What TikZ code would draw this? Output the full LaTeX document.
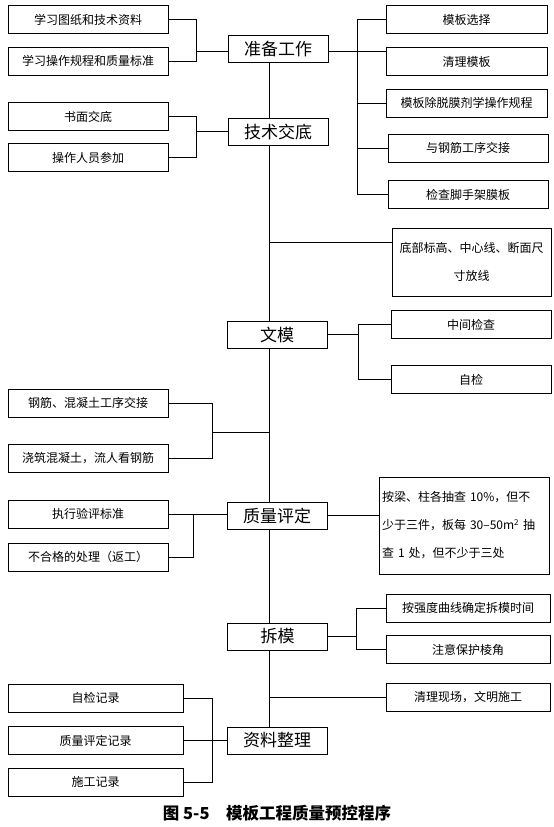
\documentclass[tikz,border=0pt]{standalone}
\usepackage{fontspec}
\setmainfont{Noto Sans CJK SC}
\usetikzlibrary{positioning}

\begin{document}
\begin{tikzpicture}[
x=1pt, y=-1pt,
mainbox/.style={draw, line width=0.9pt, minimum width=100pt, minimum height=27pt, inner sep=0pt, font=\fontsize{17}{17}\selectfont},
subbox/.style={draw, line width=0.9pt, minimum width=160pt, minimum height=28pt, inner sep=0pt, font=\fontsize{12}{12}\selectfont},
link/.style={line width=0.8pt}
]
\useasboundingbox (0,0) rectangle (554,827);

% main column
\node[mainbox] (zb) at (278,49) {准备工作};
\node[mainbox] (js) at (278,131.5) {技术交底};
\node[mainbox] (zm) at (277,334.5) {文模};
\node[mainbox] (zl) at (277,515.5) {质量评定};
\node[mainbox] (cm) at (277.5,636.5) {拆模};
\node[mainbox] (zz) at (277,740.5) {资料整理};

% left side
\node[subbox] (a1) at (88,19.5) {学习图纸和技术资料};
\node[subbox] (a2) at (88,61) {学习操作规程和质量标准};
\node[subbox] (b1) at (88,116.5) {书面交底};
\node[subbox] (b2) at (88,157.5) {操作人员参加};
\node[subbox] (c1) at (88,403) {钢筋、混凝土工序交接};
\node[subbox] (c2) at (88,458.5) {浇筑混凝土，流人看钢筋};
\node[subbox] (d1) at (88,514) {执行验评标准};
\node[subbox] (d2) at (88,557) {不合格的处理（返工）};
\node[subbox, minimum width=175pt] (e1) at (95.5,698) {自检记录};
\node[subbox, minimum width=175pt] (e2) at (95.5,740.5) {质量评定记录};
\node[subbox, minimum width=175pt] (e3) at (95.5,782) {施工记录};

% right side
\node[subbox, minimum width=161pt] (r1) at (466.5,19.5) {模板选择};
\node[subbox, minimum width=161pt] (r2) at (466.5,61.5) {清理模板};
\node[subbox, minimum width=161pt] (r3) at (466.5,103) {模板除脱膜剂学操作规程};
\node[subbox] (r4) at (468,148) {与钢筋工序交接};
\node[subbox] (r5) at (468,194.5) {检查脚手架膜板};
\node[subbox, minimum width=159pt, minimum height=68pt, align=center,
  font=\fontsize{12}{28}\selectfont] (s1) at (471.5,262) {底部标高、中心线、断面尺\\寸放线};
\node[subbox] (m1) at (471,324.5) {中间检查};
\node[subbox] (m2) at (471,379.5) {自检};
\node[subbox, text width=164pt, inner xsep=3pt, minimum height=97pt, align=left,
  font=\fontsize{12}{28}\selectfont] (q1) at (464,525.5)
  {按梁、柱各抽查 10\%，但不\\少于三件，板每 30–50m\textsuperscript{2} 抽\\查 1 处，但不少于三处};
\node[subbox, minimum width=164pt] (k1) at (468,608) {按强度曲线确定拆模时间};
\node[subbox, minimum width=164pt] (k2) at (468,649.5) {注意保护棱角};
\node[subbox, minimum width=164pt] (k3) at (468,697) {清理现场，文明施工};

% caption
\node[font=\fontsize{16.5}{16.5}\selectfont\bfseries] (cap) at (277,813) {图 5-5\quad 模板工程质量预控程序};

% trunk and bracket lines
\coordinate (trk) at (269,0);
\coordinate (lb1) at (196,0);
\coordinate (lb2) at (212,0);
\coordinate (lb3) at (193,0);
\coordinate (rb1) at (357,0);
\coordinate (rb2) at (358,0);
\coordinate (rb3) at (356,0);
\coordinate (cj) at (269,432);

\draw[link] (zb.south -| trk) -- (js.north -| trk);
\draw[link] (js.south -| trk) -- (zm.north -| trk);
\draw[link] (zm.south -| trk) -- (zl.north -| trk);
\draw[link] (zl.south -| trk) -- (cm.north -| trk);
\draw[link] (cm.south -| trk) -- (zz.north -| trk);

\draw[link] (a1.east) -- (a1.east -| lb1) -- (a2.east -| lb1) -- (a2.east);
\draw[link] ([yshift=-2pt]zb.west) -- ([yshift=-2pt]zb.west -| lb1);
\draw[link] (b1.east) -- (b1.east -| lb1) -- (b2.east -| lb1) -- (b2.east);
\draw[link] (js.west) -- (js.west -| lb1);
\draw[link] (c1.east) -- (c1.east -| lb2) -- (c2.east -| lb2) -- (c2.east);
\draw[link] (cj) -- (cj -| lb2);
\draw[link] (d1.east) -- (d1.east -| zl.west);
\draw[link] (d1.east -| lb3) -- (d2.east -| lb3) -- (d2.east);
\draw[link] (e1.east) -- (e1.east -| lb2) -- (e3.east -| lb2) -- (e3.east);
\draw[link] (e2.east) -- (zz.west);

\draw[link] (r1.west) -- (r1.west -| rb1) -- (r5.west -| rb1) -- (r5.west);
\draw[link] (r3.west -| rb1) -- (r3.west);
\draw[link] (r4.west -| rb1) -- (r4.west);
\draw[link] ([yshift=-2pt]zb.east) -- ([yshift=-2pt]zb.east -| r2.west);
\draw[link] ([yshift=20pt]s1.west) -- ([yshift=20pt]s1.west -| trk);
\draw[link] (m1.west) -- (m1.west -| rb2) -- (m2.west -| rb2) -- (m2.west);
\draw[link] (zm.east) -- (zm.east -| rb2);
\draw[link] (zl.east) -- (zl.east -| q1.west);
\draw[link] (k1.west) -- (k1.west -| rb3) -- (k2.west -| rb3) -- (k2.west);
\draw[link] (cm.east) -- (cm.east -| rb3);
\draw[link] (k3.west) -- (k3.west -| trk);

\end{tikzpicture}
\end{document}
